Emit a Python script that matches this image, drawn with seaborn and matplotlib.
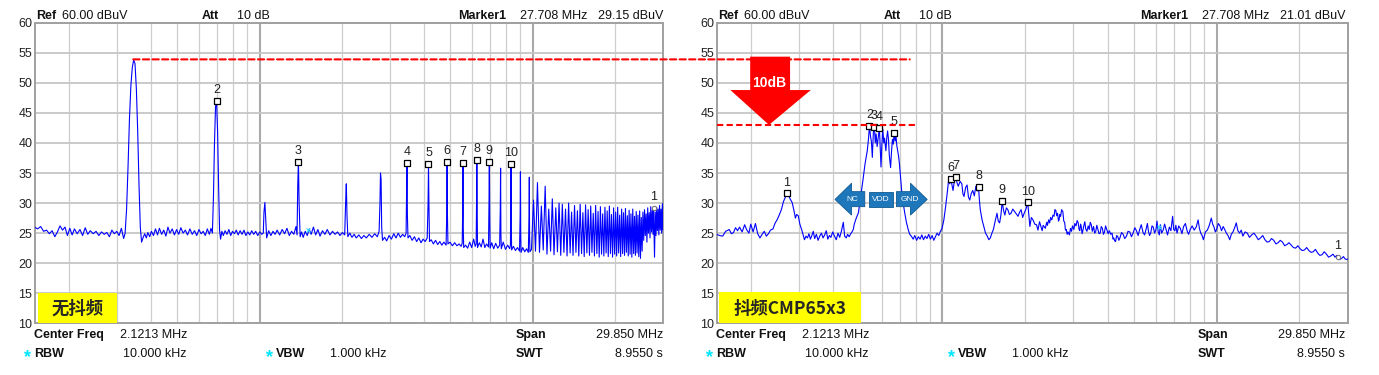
import matplotlib
matplotlib.use('Agg')
import numpy as np
import pandas as pd
import matplotlib.pyplot as plt
import matplotlib.transforms as mtransforms
import seaborn as sns
from matplotlib.patches import Rectangle, Polygon, ConnectionPatch
from matplotlib.ticker import FixedLocator, MultipleLocator, NullFormatter

# ---- traces read off the two analyser screens (MHz, dBuV) ----
# left screen: no frequency dithering
left_low = [
    (0.150, 26.0), (0.154, 25.7), (0.158, 26.1), (0.162, 25.3), (0.166, 25.5),
    (0.170, 24.9), (0.174, 25.4), (0.178, 24.4), (0.182, 25.2), (0.186, 26.2),
    (0.190, 25.5), (0.194, 26.0), (0.198, 24.6), (0.202, 25.8), (0.206, 24.7),
    (0.210, 25.7), (0.215, 24.9), (0.220, 25.6), (0.225, 24.6), (0.230, 25.9),
    (0.235, 24.8), (0.240, 25.4), (0.246, 24.9), (0.252, 25.3), (0.258, 24.6),
    (0.264, 25.2), (0.270, 24.8), (0.276, 25.1), (0.282, 24.4), (0.288, 25.5),
    (0.294, 24.9), (0.300, 25.3), (0.306, 24.6), (0.312, 25.8), (0.318, 24.1),
    (0.322, 25.0), (0.326, 29.0), (0.330, 36.0), (0.334, 44.0), (0.338, 49.5),
    (0.342, 52.5), (0.346, 53.8), (0.350, 53.2), (0.354, 49.0), (0.358, 42.0),
    (0.362, 33.0), (0.366, 26.0), (0.370, 23.5), (0.375, 24.3), (0.380, 24.9),
    (0.385, 24.2), (0.390, 25.1), (0.396, 24.4), (0.402, 25.3), (0.409, 24.6),
    (0.416, 25.7), (0.423, 24.7), (0.430, 25.8), (0.438, 24.8), (0.446, 25.5),
    (0.454, 24.5), (0.462, 26.0), (0.470, 25.0), (0.479, 25.7), (0.488, 24.7),
    (0.497, 25.6), (0.506, 24.8), (0.515, 25.9), (0.525, 25.0), (0.535, 25.5),
    (0.545, 24.7), (0.556, 25.7), (0.567, 24.8), (0.578, 25.4), (0.589, 24.6),
    (0.600, 25.6), (0.611, 24.9), (0.622, 25.3), (0.633, 24.6), (0.644, 25.7),
    (0.655, 24.8), (0.664, 25.8), (0.672, 25.0), (0.678, 31.0), (0.684, 40.0),
    (0.690, 46.0), (0.696, 47.0), (0.702, 42.0), (0.708, 33.0), (0.714, 25.5),
    (0.720, 24.0), (0.728, 25.3), (0.737, 24.6), (0.748, 25.4), (0.760, 24.8),
    (0.772, 25.6), (0.784, 24.6), (0.796, 25.3), (0.809, 24.9), (0.822, 25.5),
    (0.835, 24.7), (0.849, 25.4), (0.863, 24.8), (0.877, 25.5), (0.891, 24.6),
    (0.906, 25.2), (0.921, 24.7), (0.936, 25.4), (0.952, 24.8), (0.968, 25.3),
    (0.985, 24.6), (1.002, 25.2), (1.019, 24.8), (1.032, 25.0),
]
left_mid = [
    (1.038, 28.5), (1.046, 30.1), (1.054, 27.0), (1.062, 24.2), (1.080, 25.4),
    (1.100, 24.6), (1.120, 25.3), (1.140, 24.8), (1.160, 25.5), (1.185, 24.7),
    (1.210, 25.6), (1.235, 24.9), (1.260, 25.8), (1.285, 24.6), (1.310, 25.3),
    (1.335, 24.8), (1.360, 26.1), (1.372, 24.7), (1.380, 33.0), (1.388, 36.9),
    (1.396, 30.0), (1.408, 24.4), (1.425, 25.2), (1.445, 24.3), (1.470, 25.3),
    (1.495, 24.6), (1.520, 25.7), (1.545, 24.8), (1.575, 26.0), (1.605, 24.7),
    (1.635, 25.6), (1.665, 24.5), (1.700, 25.4), (1.735, 24.8), (1.770, 25.6),
    (1.810, 24.7), (1.850, 25.3), (1.890, 24.8), (1.930, 25.2), (1.970, 24.6),
    (2.010, 25.1), (2.050, 24.7), (2.066, 30.0), (2.078, 33.2), (2.090, 28.0),
    (2.105, 24.4), (2.140, 25.0), (2.180, 24.3), (2.220, 24.8), (2.260, 24.2),
    (2.310, 24.7), (2.360, 24.1), (2.410, 24.6), (2.460, 24.2), (2.520, 24.8),
    (2.580, 24.3), (2.640, 24.9), (2.700, 24.4), (2.740, 25.3), (2.760, 30.0),
    (2.772, 35.0), (2.786, 34.0), (2.800, 26.0), (2.820, 23.8), (2.870, 24.3),
    (2.920, 23.7), (2.980, 24.6), (3.040, 24.0), (3.100, 24.9), (3.160, 24.2),
    (3.220, 25.0), (3.280, 24.3), (3.340, 24.8), (3.400, 24.4), (3.440, 25.0),
    (3.452, 30.0), (3.465, 36.7), (3.478, 28.0), (3.495, 24.2), (3.550, 24.6),
    (3.620, 23.8), (3.690, 24.4), (3.760, 23.6), (3.830, 24.2), (3.900, 23.4),
    (3.970, 24.0), (4.040, 23.6), (4.110, 24.2), (4.140, 30.0), (4.155, 36.5),
    (4.170, 30.0), (4.190, 23.6), (4.250, 23.9), (4.330, 23.2), (4.410, 23.8),
    (4.490, 23.1), (4.570, 23.6), (4.650, 23.0), (4.730, 23.5), (4.820, 23.0),
    (4.845, 28.0), (4.860, 36.9), (4.875, 28.0), (4.895, 23.2), (4.980, 23.5),
    (5.080, 22.9), (5.180, 23.4), (5.280, 22.9), (5.380, 23.2), (5.470, 22.8),
    (5.520, 23.3), (5.540, 28.0), (5.555, 36.7), (5.570, 26.0), (5.590, 22.6),
    (5.680, 23.0), (5.780, 22.5), (5.880, 23.5), (5.980, 22.6), (6.080, 24.0),
    (6.160, 22.8), (6.210, 23.2), (6.230, 30.0), (6.245, 37.2), (6.260, 30.0),
    (6.280, 22.6), (6.380, 23.4), (6.480, 22.7), (6.580, 24.0), (6.680, 22.6),
    (6.780, 23.2), (6.890, 22.7), (6.920, 30.0), (6.940, 36.9), (6.960, 28.0),
    (6.985, 22.5), (7.080, 23.4), (7.200, 22.4), (7.320, 23.3), (7.450, 22.5),
    (7.570, 23.0), (7.610, 29.0), (7.630, 35.8), (7.650, 25.0), (7.675, 22.4),
    (7.800, 23.5), (7.950, 22.3), (8.100, 23.0), (8.240, 22.4), (8.290, 23.0),
    (8.310, 30.0), (8.330, 36.5), (8.350, 26.0), (8.375, 22.2), (8.500, 22.8),
    (8.650, 22.1), (8.800, 22.6), (8.950, 22.0), (9.000, 28.0), (9.020, 35.2),
    (9.040, 25.0), (9.065, 21.8), (9.200, 22.6), (9.350, 21.9), (9.500, 22.4),
    (9.640, 21.8), (9.700, 28.0), (9.720, 34.3), (9.740, 25.0), (9.770, 21.9),
]
# harmonic comb above 10 MHz (peak / valley alternately)
left_comb = [
    (9.900, 22.3), (10.07, 30.5), (10.24, 22.0), (10.41, 33.4), (10.59, 21.8),
    (10.76, 29.5), (10.93, 22.2), (11.11, 32.8), (11.28, 21.5), (11.45, 29.0),
    (11.63, 22.0), (11.80, 30.7), (11.97, 21.4), (12.15, 29.2), (12.32, 21.9),
    (12.49, 30.0), (12.67, 21.3), (12.84, 29.8), (13.01, 21.8), (13.19, 29.0),
    (13.36, 21.2), (13.54, 30.0), (13.71, 21.7), (13.88, 28.5), (14.05, 21.3),
    (14.23, 29.6), (14.40, 21.8), (14.58, 28.7), (14.75, 21.2), (14.92, 29.8),
    (15.10, 21.6), (15.27, 28.4), (15.44, 21.1), (15.62, 29.7), (15.79, 21.7),
    (15.96, 28.9), (16.14, 21.3), (16.31, 29.5), (16.48, 21.8), (16.66, 28.3),
    (16.83, 21.2), (17.00, 29.6), (17.18, 21.6), (17.35, 28.6), (17.52, 21.0),
    (17.70, 29.4), (17.87, 21.5), (18.04, 28.2), (18.22, 21.2), (18.39, 29.3),
    (18.57, 21.7), (18.74, 28.7), (18.91, 21.1), (19.09, 29.5), (19.26, 21.6),
    (19.43, 28.1), (19.61, 21.0), (19.78, 29.2), (19.95, 21.5), (20.13, 28.5),
    (20.30, 21.2), (20.47, 29.3), (20.64, 21.7), (20.82, 28.0), (20.99, 21.1),
    (21.17, 29.0), (21.34, 21.6), (21.51, 28.4), (21.69, 21.3), (21.86, 29.1),
    (22.03, 21.8), (22.21, 27.9), (22.38, 21.2), (22.55, 28.8), (22.73, 21.5),
    (22.90, 28.2), (23.07, 21.0), (23.25, 29.0), (23.42, 21.6), (23.60, 27.8),
    (23.77, 21.3), (23.94, 28.6), (24.11, 21.7), (24.29, 28.0), (24.46, 21.1),
    (24.64, 28.7), (24.81, 20.8), (24.98, 27.6), (25.16, 22.0), (25.33, 28.5),
    (25.50, 23.8), (25.68, 28.9), (25.85, 24.6), (26.02, 28.2), (26.20, 23.5),
    (26.37, 29.2), (26.54, 25.0), (26.72, 28.4), (26.89, 24.2), (27.06, 29.4),
    (27.24, 25.2), (27.41, 28.8), (27.58, 24.8), (27.708, 29.15), (27.93, 21.0),
    (28.10, 28.5), (28.28, 24.6), (28.45, 29.3), (28.62, 25.4), (28.80, 29.0),
    (28.97, 24.7), (29.14, 29.6), (29.32, 25.5), (29.49, 29.0), (29.67, 25.0),
    (29.84, 29.9), (30.00, 25.5),
]

# right screen: dithering CMP65x3
right_low = [
    (0.150, 24.8), (0.154, 24.6), (0.158, 24.5), (0.162, 25.3), (0.167, 25.6),
    (0.170, 24.9), (0.173, 25.1), (0.176, 25.9), (0.179, 25.4), (0.182, 26.0),
    (0.186, 25.2), (0.190, 26.4), (0.193, 25.6), (0.197, 25.0), (0.200, 26.5),
    (0.204, 25.2), (0.208, 26.6), (0.212, 24.9), (0.216, 24.2), (0.220, 24.8),
    (0.224, 25.3), (0.228, 24.5), (0.232, 24.9), (0.236, 25.5), (0.241, 25.7),
    (0.245, 26.6), (0.250, 27.3), (0.255, 28.2), (0.259, 29.0), (0.263, 30.2),
    (0.267, 30.9), (0.271, 31.6), (0.275, 31.2), (0.279, 30.6), (0.283, 30.1),
    (0.287, 28.9), (0.291, 27.5), (0.294, 28.1), (0.298, 27.9), (0.302, 26.5),
    (0.307, 25.5), (0.311, 24.6), (0.314, 23.9), (0.318, 24.5), (0.322, 24.2),
    (0.326, 24.9), (0.330, 24.0), (0.334, 24.6), (0.338, 25.3), (0.342, 24.1),
    (0.347, 24.8), (0.352, 23.8), (0.357, 24.5), (0.362, 25.0), (0.367, 24.2),
    (0.372, 24.7), (0.377, 25.4), (0.382, 24.0), (0.387, 24.6), (0.392, 24.3),
    (0.398, 25.2), (0.404, 24.5), (0.410, 23.9), (0.416, 25.0), (0.422, 24.3),
    (0.428, 25.3), (0.435, 26.8), (0.440, 24.5), (0.446, 24.2), (0.451, 24.8),
    (0.457, 24.4), (0.463, 24.9), (0.468, 25.2), (0.473, 25.6), (0.477, 26.5),
    (0.485, 27.5), (0.494, 28.4), (0.503, 31.0), (0.513, 33.8), (0.522, 36.5),
    (0.532, 38.7), (0.537, 40.5), (0.542, 42.8), (0.547, 41.0), (0.551, 40.2),
    (0.555, 37.6), (0.560, 41.8), (0.565, 42.6), (0.569, 40.0), (0.573, 41.5),
    (0.578, 39.4), (0.583, 40.8), (0.589, 42.5), (0.593, 39.0), (0.597, 36.0),
    (0.601, 39.5), (0.606, 42.3), (0.611, 40.0), (0.615, 40.8), (0.622, 38.7),
    (0.627, 41.0), (0.631, 42.0), (0.636, 40.5), (0.640, 38.0), (0.647, 35.9),
    (0.652, 38.5), (0.657, 40.6), (0.662, 39.8), (0.666, 41.6), (0.672, 40.3),
    (0.677, 41.2), (0.682, 39.5), (0.687, 38.6), (0.692, 37.8), (0.697, 36.5),
    (0.704, 34.0), (0.710, 32.1), (0.719, 30.0), (0.729, 28.3), (0.739, 26.8),
    (0.750, 25.6), (0.760, 24.8), (0.770, 24.5), (0.782, 24.0), (0.793, 24.6),
    (0.805, 23.8), (0.817, 24.4), (0.829, 24.0), (0.841, 24.7), (0.853, 23.9),
    (0.866, 24.5), (0.878, 24.1), (0.891, 24.8), (0.904, 24.0), (0.917, 24.6),
    (0.930, 23.8), (0.943, 24.4), (0.956, 25.0), (0.970, 24.6), (0.983, 25.3),
]
right_mid = [
    (0.997, 25.8), (1.012, 27.2), (1.027, 29.4), (1.040, 31.5), (1.053, 33.8),
    (1.063, 33.2), (1.073, 34.0), (1.083, 33.0), (1.093, 32.1), (1.105, 33.6),
    (1.118, 34.4), (1.130, 33.4), (1.142, 32.8), (1.160, 33.6), (1.177, 33.2),
    (1.188, 31.5), (1.199, 31.1), (1.215, 32.6), (1.230, 33.0), (1.244, 31.0),
    (1.258, 30.5), (1.274, 31.6), (1.290, 32.1), (1.307, 31.2), (1.324, 32.8),
    (1.340, 32.0), (1.354, 32.7), (1.364, 30.5), (1.374, 28.9), (1.395, 27.2),
    (1.415, 26.1), (1.436, 25.0), (1.457, 24.5), (1.476, 23.9), (1.495, 24.2),
    (1.515, 25.0), (1.534, 25.6), (1.557, 27.0), (1.581, 28.3), (1.598, 27.0),
    (1.616, 26.7), (1.634, 28.0), (1.652, 30.3), (1.670, 28.8), (1.689, 28.0),
    (1.710, 29.2), (1.732, 28.9), (1.755, 28.1), (1.779, 28.3), (1.805, 29.0),
    (1.832, 28.6), (1.860, 28.2), (1.887, 27.8), (1.912, 28.5), (1.936, 28.9),
    (1.961, 27.6), (1.986, 28.3), (2.016, 29.0), (2.046, 30.1), (2.065, 28.0),
    (2.084, 26.1), (2.110, 27.6), (2.139, 27.2), (2.170, 26.5), (2.203, 26.4),
    (2.230, 25.5), (2.260, 26.9), (2.286, 26.1), (2.310, 25.4), (2.330, 26.3),
    (2.372, 25.8), (2.400, 26.8), (2.415, 26.3), (2.440, 27.2), (2.460, 26.7),
    (2.480, 27.6), (2.505, 27.2), (2.530, 28.0), (2.553, 27.8), (2.570, 28.9),
    (2.590, 28.8), (2.610, 27.9), (2.629, 28.3), (2.650, 27.0), (2.663, 27.2),
    (2.680, 28.1), (2.698, 27.8), (2.720, 28.9), (2.748, 28.6), (2.770, 27.0),
    (2.790, 26.8), (2.810, 25.5), (2.830, 25.6), (2.850, 24.8), (2.870, 25.2),
    (2.904, 24.7), (2.930, 25.8), (2.955, 25.3), (2.980, 26.2), (3.014, 25.6),
    (3.040, 26.6), (3.070, 26.2), (3.100, 27.1), (3.127, 26.7), (3.150, 25.6),
    (3.168, 25.4), (3.190, 26.5), (3.208, 26.1), (3.230, 24.9), (3.255, 25.5),
    (3.280, 26.3), (3.305, 26.9), (3.330, 25.7), (3.365, 25.3), (3.400, 26.2),
    (3.429, 25.6), (3.460, 26.8), (3.490, 26.4), (3.520, 25.3), (3.557, 26.1),
    (3.590, 25.0), (3.620, 25.2), (3.655, 26.3), (3.691, 25.6), (3.725, 24.9),
    (3.760, 25.0), (3.795, 26.1), (3.830, 25.8), (3.865, 24.8), (3.900, 25.2),
    (3.935, 26.2), (3.973, 25.6), (4.020, 24.9), (4.060, 25.4), (4.110, 24.8),
]
right_high = [
    (4.154, 25.0), (4.190, 24.0), (4.215, 24.2), (4.250, 23.7), (4.278, 23.6),
    (4.320, 24.6), (4.360, 24.4), (4.400, 23.8), (4.438, 24.2), (4.500, 25.1),
    (4.560, 24.8), (4.620, 24.1), (4.691, 24.5), (4.750, 25.3), (4.820, 25.2),
    (4.890, 24.4), (4.957, 25.0), (5.030, 25.9), (5.100, 25.4), (5.170, 24.6),
    (5.239, 25.6), (5.310, 26.4), (5.390, 25.1), (5.460, 24.7), (5.538, 25.8),
    (5.590, 26.6), (5.640, 25.3), (5.690, 24.6), (5.746, 25.0), (5.810, 26.2),
    (5.870, 26.0), (5.940, 25.0), (6.006, 25.6), (6.060, 27.0), (6.120, 25.2),
    (6.180, 24.7), (6.231, 26.4), (6.300, 25.0), (6.380, 25.5), (6.460, 26.5),
    (6.537, 25.6), (6.620, 24.7), (6.720, 26.0), (6.810, 25.4), (6.910, 27.8),
    (6.970, 25.6), (7.040, 25.4), (7.100, 26.3), (7.170, 25.0), (7.270, 26.2),
    (7.370, 25.8), (7.470, 24.9), (7.576, 26.1), (7.690, 26.6), (7.800, 25.4),
    (7.900, 24.8), (8.007, 25.6), (8.140, 26.2), (8.280, 25.5), (8.420, 26.0),
    (8.558, 27.2), (8.650, 25.8), (8.750, 25.0), (8.850, 24.6), (8.946, 23.9),
    (9.100, 25.2), (9.250, 25.5), (9.400, 26.3), (9.560, 27.5), (9.670, 26.5),
    (9.780, 26.0), (9.890, 25.2), (9.992, 25.6), (10.14, 26.6), (10.28, 26.2),
    (10.42, 25.4), (10.56, 26.1), (10.70, 25.6), (10.85, 25.0), (11.00, 24.6),
    (11.16, 23.9), (11.31, 24.8), (11.47, 25.2), (11.63, 25.9), (11.79, 26.7),
    (11.95, 25.4), (12.12, 25.0), (12.29, 25.5), (12.46, 24.5), (12.70, 25.2),
    (12.93, 25.0), (13.17, 24.3), (13.42, 24.7), (13.67, 25.0), (13.93, 24.5),
    (14.19, 23.9), (14.45, 24.2), (14.72, 24.6), (15.00, 23.9), (15.28, 23.5),
    (15.56, 23.6), (15.85, 24.1), (16.15, 23.8), (16.45, 23.2), (16.75, 23.4),
    (17.06, 23.8), (17.38, 23.5), (17.70, 22.9), (18.03, 23.1), (18.36, 23.4),
    (18.70, 23.0), (19.05, 22.6), (19.41, 22.5), (19.77, 22.9), (20.14, 22.4),
    (20.52, 22.1), (20.90, 22.2), (21.29, 22.6), (21.69, 22.1), (22.09, 21.8),
    (22.50, 21.9), (22.92, 22.3), (23.34, 21.7), (23.78, 21.3), (24.22, 21.4),
    (24.67, 21.9), (25.13, 21.5), (25.60, 21.0), (26.07, 21.2), (26.55, 21.5),
    (27.04, 21.0), (27.40, 21.3), (27.708, 21.01), (28.10, 20.6), (28.58, 20.8),
    (29.00, 21.1), (29.40, 20.7), (29.88, 20.6), (30.00, 20.7),
]

# peak-list markers
left_mark_id = ['2', '3', '4', '5', '6', '7', '8', '9', '10']
left_mark_mhz = [0.696, 1.388, 3.465, 4.155, 4.860, 5.555, 6.245, 6.940, 8.330]
left_mark_db = [47.0, 36.9, 36.7, 36.5, 36.9, 36.7, 37.2, 36.9, 36.5]
right_mark_id = ['1', '2', '3', '4', '5', '6', '7', '8', '9', '10']
right_mark_mhz = [0.271, 0.542, 0.565, 0.589, 0.666, 1.073, 1.118, 1.354, 1.652, 2.046]
right_mark_db = [31.6, 42.8, 42.6, 42.5, 41.6, 34.0, 34.4, 32.7, 30.3, 30.1]
marker1_mhz = 27.708
left_marker1_db = 29.15
right_marker1_db = 21.01

peak_ref_db = 53.9
dither_ref_db = 43.0

sns.set_theme(style='white')
plt.rcParams['font.family'] = ['Liberation Sans', 'DejaVu Sans']
cjk = ['Noto Sans CJK SC', 'DejaVu Sans']

W, H = 1379, 375
fig = plt.figure(figsize=(W / 100, H / 100), dpi=100)
ax_l = fig.add_axes([34.5 / W, 1 - 323.3 / H, 628.5 / W, 300.6 / H])
ax_r = fig.add_axes([716.5 / W, 1 - 323.3 / H, 631 / W, 300.6 / H])

grid_minor = [0.2, 0.3, 0.4, 0.5, 0.6, 0.7, 0.8, 0.9, 2, 3, 4, 5, 6, 7, 8, 9, 20]

def trace_frame(*parts):
    rows = [p for part in parts for p in part]
    df = pd.DataFrame(rows, columns=['mhz', 'db'])
    return df.sort_values('mhz')

def style_screen(ax):
    ax.set_xscale('log')
    ax.set_xlim(0.15, 30)
    ax.set_ylim(10, 60)
    ax.yaxis.set_major_locator(MultipleLocator(5))
    ax.xaxis.set_major_locator(FixedLocator([1, 10]))
    ax.xaxis.set_minor_locator(FixedLocator(grid_minor))
    ax.xaxis.set_major_formatter(NullFormatter())
    ax.xaxis.set_minor_formatter(NullFormatter())
    ax.tick_params(axis='both', which='both', length=0)
    ax.tick_params(axis='y', labelsize=9, pad=1.5, labelcolor='#222222')
    ax.grid(axis='x', which='minor', color='#cdcdcd', lw=0.9)
    ax.grid(axis='x', which='major', color='#a9a9a9', lw=1.5)
    ax.grid(axis='y', which='major', color='#c6c6c6', lw=1.3)
    for sp in ax.spines.values():
        sp.set_color('#a0a0a0')
        sp.set_linewidth(1.4)

def add_markers(ax, ids, mhz, db, m1_db):
    sns.scatterplot(x=mhz, y=db, ax=ax, marker='s', s=16, color='white',
                    edgecolor='black', linewidth=0.9, zorder=5, legend=False)
    for lab, f, v in zip(ids, mhz, db):
        ax.annotate(lab, (f, v), xytext=(0, 3.5), textcoords='offset points',
                    ha='center', va='bottom', fontsize=9, color='#222222', zorder=6)
    sns.scatterplot(x=[marker1_mhz], y=[m1_db], ax=ax, marker='o', s=10,
                    color='white', edgecolor='#777777', linewidth=0.8, zorder=5, legend=False)
    ax.annotate('1', (marker1_mhz, m1_db), xytext=(0, 3.5), textcoords='offset points',
                ha='center', va='bottom', fontsize=9, color='#222222', zorder=6)

for ax, df in [(ax_l, trace_frame(left_low, left_mid, left_comb)),
               (ax_r, trace_frame(right_low, right_mid, right_high))]:
    style_screen(ax)
    sns.lineplot(data=df, x='mhz', y='db', ax=ax, color='#0000ff', lw=0.8,
                 estimator=None, sort=False, zorder=3)
    ax.set_xlabel('')
    ax.set_ylabel('')

add_markers(ax_l, left_mark_id, left_mark_mhz, left_mark_db, left_marker1_db)
add_markers(ax_r, right_mark_id, right_mark_mhz, right_mark_db, right_marker1_db)

# little cyan display-line ticks
ax_l.plot([1.50], [25.5], marker='x', ms=3.5, mew=0.8, color='#33e6ff', zorder=4)
ax_r.plot([6.14], [26.1], marker='x', ms=3.5, mew=0.8, color='#33e6ff', zorder=4)

# red reference lines and the 10 dB arrow
dash = (0, (3, 1.6))
con = ConnectionPatch(xyA=(0.345, peak_ref_db), coordsA=ax_l.transData,
                      xyB=(0.76, peak_ref_db), coordsB=ax_r.transData,
                      color='#ff0000', lw=1.5, ls=dash, zorder=10)
fig.add_artist(con)
ax_r.plot([0.15, 0.80], [dither_ref_db, dither_ref_db], color='#ff0000', lw=1.5,
          ls=dash, clip_on=False, zorder=10)

tr_r = mtransforms.blended_transform_factory(ax_r.transAxes, ax_r.transData)
arrow = Polygon([(0.0534, 54.35), (0.1166, 54.35), (0.1166, 48.8), (0.1494, 48.8),
                 (0.0832, dither_ref_db), (0.022, 48.8), (0.0534, 48.8)],
                closed=True, transform=tr_r, facecolor='#ff0000', edgecolor='none', zorder=9)
ax_r.add_patch(arrow)
ax_r.text(0.0832, 49.9, '10dB', transform=tr_r, ha='center', va='center',
          color='white', fontsize=10, fontweight='bold', zorder=11)

# pin arrows NC / VDD / GND
pin_fc, pin_ec = '#1f77bb', '#0f5a92'
nc = Polygon([(0.1878, 30.6), (0.2141, 33.3), (0.2141, 31.9), (0.2350, 31.9),
              (0.2350, 29.4), (0.2141, 29.4), (0.2141, 28.0)],
             closed=True, transform=tr_r, fc=pin_fc, ec=pin_ec, lw=0.6, zorder=8)
vdd = Rectangle((0.2412, 29.4), 0.0384, 2.5, transform=tr_r, fc=pin_fc, ec=pin_ec,
                lw=0.6, zorder=8)
gnd = Polygon([(0.2851, 29.4), (0.3074, 29.4), (0.3074, 28.0), (0.3339, 30.6),
               (0.3074, 33.3), (0.3074, 31.9), (0.2851, 31.9)],
              closed=True, transform=tr_r, fc=pin_fc, ec=pin_ec, lw=0.6, zorder=8)
for p in (nc, vdd, gnd):
    ax_r.add_patch(p)
for x, s in [(0.2150, 'NC'), (0.2604, 'VDD'), (0.3060, 'GND')]:
    ax_r.text(x, 30.65, s, transform=tr_r, ha='center', va='center', color='white',
              fontsize=6, zorder=9)

# yellow captions
tr_l = mtransforms.blended_transform_factory(ax_l.transAxes, ax_l.transData)
ax_l.add_patch(Rectangle((0.0051, 10), 0.1257, 5.0, transform=tr_l, fc='#ffff00',
                         ec='none', zorder=7))
ax_l.text(0.068, 12.4, '无抖频', transform=tr_l, ha='center', va='center',
          fontsize=12.5, fontweight='bold', family=cjk, zorder=8)
ax_r.add_patch(Rectangle((0.0032, 10), 0.2258, 5.2, transform=tr_r, fc='#ffff00',
                         ec='none', zorder=7))
ax_r.text(0.1165, 12.4, '抖频CMP65x3', transform=tr_r, ha='center', va='center',
          fontsize=12.5, fontweight='bold', family=cjk, zorder=8)

# instrument header / footer text
def put(x, y, s, **kw):
    kw.setdefault('va', 'baseline')
    kw.setdefault('fontsize', 9)
    kw.setdefault('color', '#111111')
    fig.text(x / W, 1 - y / H, s, **kw)

for dx, m1 in [(0, '29.15 dBuV'), (682, '21.01 dBuV')]:
    put(35.7 + dx, 19.3, 'Ref', fontweight='bold')
    put(62.3 + dx, 19.3, '60.00 dBuV')
    put(202 + dx, 19.3, 'Att', fontweight='bold')
    put(237 + dx, 19.3, '10 dB')
    put(458 + dx, 19.3, 'Marker1', fontweight='bold')
    put(520 + dx, 19.3, '27.708 MHz')
    put(663 + dx, 19.3, m1, ha='right')
    put(34.3 + dx, 338, 'Center Freq', fontweight='bold')
    put(120 + dx, 338, '2.1213 MHz')
    put(516 + dx, 338, 'Span', fontweight='bold')
    put(663 + dx, 338, '29.850 MHz', ha='right')
    put(28 + dx, 362, '*', ha='center', color='#00e5ff', fontsize=13, fontweight='bold')
    put(34.3 + dx, 357, 'RBW', fontweight='bold')
    put(123 + dx, 357, '10.000 kHz')
    put(270 + dx, 362, '*', ha='center', color='#00e5ff', fontsize=13, fontweight='bold')
    put(276 + dx, 357, 'VBW', fontweight='bold')
    put(330 + dx, 357, '1.000 kHz')
    put(516 + dx, 357, 'SWT', fontweight='bold')
    put(663 + dx, 357, '8.9550 s', ha='right')

fig.savefig('out.png', dpi=100)
